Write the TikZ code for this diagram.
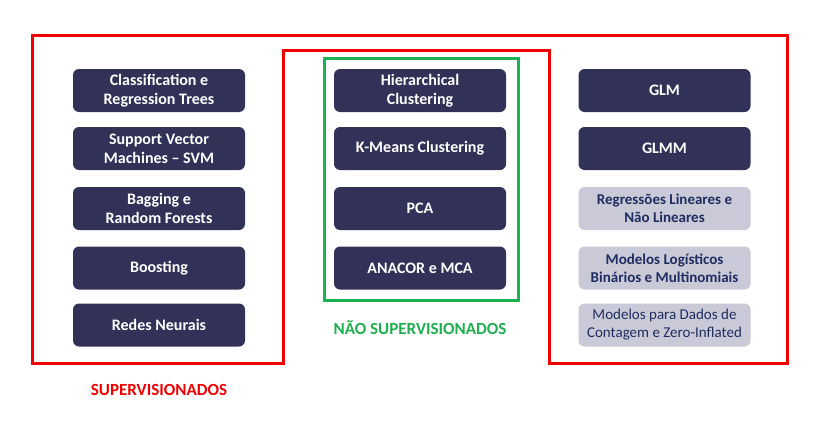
\documentclass[tikz,border=0pt]{standalone}
\usepackage{fontspec}
\setmainfont{Carlito}
\definecolor{navy}{RGB}{50,50,88}
\definecolor{lightbox}{RGB}{201,201,215}
\definecolor{lighttext}{RGB}{31,46,96}
\definecolor{redline}{RGB}{240,0,0}
\definecolor{greenline}{RGB}{30,175,80}
\tikzset{
  darkbox/.style={rectangle, rounded corners=6pt, fill=navy, text=white, font=\bfseries\fontsize{16}{19}\selectfont, minimum width=172pt, minimum height=43pt, align=center, inner sep=0pt},
  lightbx/.style={rectangle, rounded corners=6pt, fill=lightbox, text=lighttext, font=\bfseries\fontsize{15}{18}\selectfont, minimum width=172pt, minimum height=43pt, align=center, inner sep=0pt},
  lightreg/.style={lightbx, font=\fontsize{15}{18}\selectfont},
  frameline/.style={line width=3pt},
  grouplabel/.style={font=\bfseries\fontsize{17}{19}\selectfont, inner sep=0pt}
}
\begin{document}
\begin{tikzpicture}[x=1pt,y=-1pt]
\useasboundingbox[fill=white] (0,0) rectangle (815,434);
% red frame
\draw[frameline, redline] (32,35) -- (787,35) -- (787,363) -- (549,363) -- (549,50) -- (283,50) -- (283,363) -- (32,363) -- cycle;
% green frame
\draw[frameline, greenline] (324,58) rectangle (518,300);
% left column
\node[darkbox] (cart) at (159,90.5) {Classification e\\Regression Trees};
\node[darkbox] (svm) at (159,148.5) {Support Vector\\Machines -- SVM};
\node[darkbox] (bag) at (159,208.5) {Bagging e\\Random Forests};
\node[darkbox] (boost) at (159,268) {Boosting};
\node[darkbox] (redes) at (159,325) {Redes Neurais};
% middle column
\node[darkbox] (hc) at (420,90.5) {Hierarchical\\Clustering};
\node[darkbox] (km) at (420,148.5) {K-Means Clustering};
\node[darkbox] (pca) at (420,208.5) {PCA};
\node[darkbox] (anacor) at (420,268) {ANACOR e MCA};
% right column
\node[darkbox] (glm) at (664.5,90.5) {GLM};
\node[darkbox] (glmm) at (664.5,148.5) {GLMM};
\node[lightbx] (reg) at (664.5,208.5) {Regressões Lineares e\\Não Lineares};
\node[lightbx] (logit) at (664.5,268) {Modelos Logísticos\\Binários e Multinomiais};
\node[lightreg] (count) at (664.5,325) {Modelos para Dados de\\Contagem e Zero-Inflated};
% labels
\node[grouplabel, text=redline] (sup) at (159,390) {SUPERVISIONADOS};
\node[grouplabel, text=greenline] (nsup) at (420,328) {NÃO SUPERVISIONADOS};
\end{tikzpicture}
\end{document}
